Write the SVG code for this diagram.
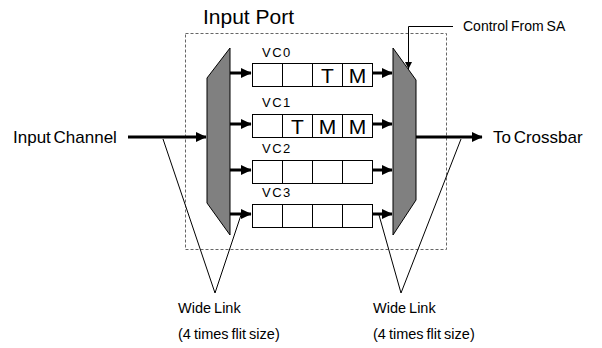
<svg xmlns="http://www.w3.org/2000/svg" width="602" height="348" viewBox="0 0 602 348">
<style>
text{font-family:"Liberation Sans",Arial,sans-serif;fill:#000}
.cell{fill:#fff;stroke:#000;stroke-width:1}
.mux{fill:#808080;stroke:#000;stroke-width:1}
.thick{stroke:#000;stroke-width:3;fill:none}
.thin{stroke:#000;stroke-width:1;fill:none}
.vc{font-size:13px;letter-spacing:1.5px}
.big{font-size:21px;text-anchor:middle}
.lbl{font-size:17px;word-spacing:-2px}
.small{font-size:14.5px;word-spacing:-1px}
</style>
<defs>
<marker id="ah" markerWidth="4" markerHeight="4" refX="3.4" refY="1.7" orient="auto" markerUnits="strokeWidth">
<path d="M0,0 L3.6,1.7 L0,3.4 Z" fill="#000"/>
</marker>
<marker id="ahs" markerWidth="8" markerHeight="8" refX="7" refY="3.5" orient="auto" markerUnits="userSpaceOnUse">
<path d="M0,0 L7,3.5 L0,7 Z" fill="#000"/>
</marker>
</defs>
<rect x="185.5" y="33.5" width="261" height="216" fill="none" stroke="#666" stroke-width="1" stroke-dasharray="3,2"/>
<text x="203" y="24" font-size="21">Input Port</text>
<g id="demux"><polygon class="mux" points="230,48 230,235 207,203 207,78"/></g>
<g id="mux"><polygon class="mux" points="393,48 416,80 416,200 393,235"/></g>
<g id="vc0">
<text class="vc" x="262" y="57">VC0</text>
<rect class="cell" x="252.5" y="63.5" width="30" height="23"/><rect class="cell" x="282.5" y="63.5" width="30" height="23"/><rect class="cell" x="312.5" y="63.5" width="30" height="23"/><rect class="cell" x="342.5" y="63.5" width="30" height="23"/>
<text class="big" x="327.5" y="83">T</text><text class="big" x="357.5" y="83">M</text>
</g>
<g id="vc1">
<text class="vc" x="262" y="107">VC1</text>
<rect class="cell" x="252.5" y="114.5" width="30" height="23"/><rect class="cell" x="282.5" y="114.5" width="30" height="23"/><rect class="cell" x="312.5" y="114.5" width="30" height="23"/><rect class="cell" x="342.5" y="114.5" width="30" height="23"/>
<text class="big" x="297.5" y="134">T</text><text class="big" x="327.5" y="134">M</text><text class="big" x="357.5" y="134">M</text>
</g>
<g id="vc2">
<text class="vc" x="262" y="153">VC2</text>
<rect class="cell" x="252.5" y="160.5" width="30" height="23"/><rect class="cell" x="282.5" y="160.5" width="30" height="23"/><rect class="cell" x="312.5" y="160.5" width="30" height="23"/><rect class="cell" x="342.5" y="160.5" width="30" height="23"/>
</g>
<g id="vc3">
<text class="vc" x="262" y="197">VC3</text>
<rect class="cell" x="252.5" y="204.5" width="30" height="23"/><rect class="cell" x="282.5" y="204.5" width="30" height="23"/><rect class="cell" x="312.5" y="204.5" width="30" height="23"/><rect class="cell" x="342.5" y="204.5" width="30" height="23"/>
</g>
<g id="labels">
<text class="lbl" x="13" y="143">Input Channel</text>
<text class="lbl" x="493" y="143">To Crossbar</text>
<text class="small" x="463" y="31" style="font-size:14px">Control From SA</text>
<text class="small" x="178" y="313">Wide Link</text>
<text class="small" x="178" y="339">(4 times flit size)</text>
<text class="small" x="373" y="313">Wide Link</text>
<text class="small" x="373" y="339">(4 times flit size)</text>
</g>
<g id="connectors">
<line class="thick" x1="128" y1="137" x2="206" y2="137" marker-end="url(#ah)"/>
<line class="thick" x1="416" y1="137" x2="482" y2="137" marker-end="url(#ah)"/>
<line class="thick" x1="230" y1="73" x2="251" y2="73" marker-end="url(#ah)"/>
<line class="thick" x1="230" y1="124" x2="251" y2="124" marker-end="url(#ah)"/>
<line class="thick" x1="230" y1="170" x2="251" y2="170" marker-end="url(#ah)"/>
<line class="thick" x1="230" y1="214" x2="251" y2="214" marker-end="url(#ah)"/>
<line class="thick" x1="373" y1="73" x2="392" y2="73" marker-end="url(#ah)"/>
<line class="thick" x1="373" y1="124" x2="392" y2="124" marker-end="url(#ah)"/>
<line class="thick" x1="373" y1="170" x2="392" y2="170" marker-end="url(#ah)"/>
<line class="thick" x1="373" y1="214" x2="392" y2="214" marker-end="url(#ah)"/>
<polyline class="thin" points="453,26.5 408.5,26.5 408.5,69" marker-end="url(#ahs)"/>
<polyline class="thin" points="163,139 215,293 242,212"/>
<polyline class="thin" points="379,215 401,293 461,139"/>
</g>
</svg>
